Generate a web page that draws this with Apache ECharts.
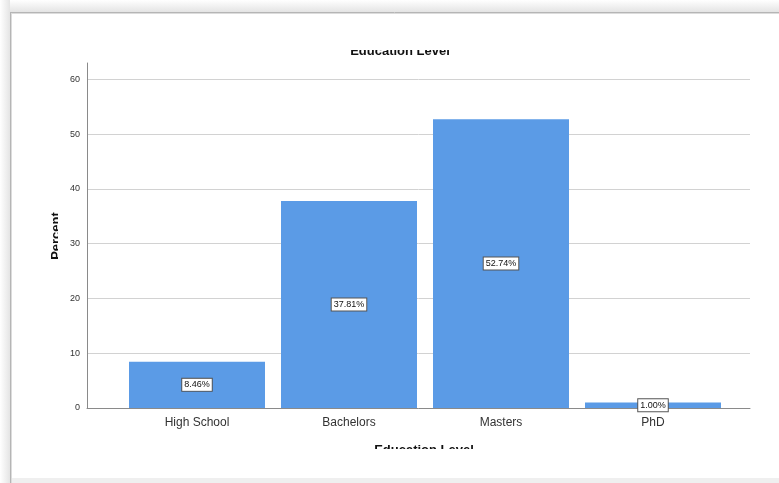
<!DOCTYPE html>
<html>
<head>
<meta charset="utf-8">
<script src="https://cdn.jsdelivr.net/npm/echarts@6/dist/echarts.min.js"></script>
<style>
  html, body { margin: 0; padding: 0; background: #fff; }
  #chart { width: 779px; height: 483px; }
</style>
</head>
<body>
<div id="chart"></div>
<script>
// Education level distribution (percent of respondents)
const categories = ['High School', 'Bachelors', 'Masters', 'PhD'];
const percents = [8.46, 37.81, 52.74, 1.00];
const yTicks = { min: 0, max: 63, interval: 10 };
const chartTitle = 'Education Level';
const xTitle = 'Education Level';
const yTitle = 'Percent';

const FONT = '"Liberation Sans", Arial, sans-serif';
const BAR = '#5b9be6';

const chart = echarts.init(document.getElementById('chart'), null, { renderer: 'canvas' });

chart.setOption({
  animation: false,
  backgroundColor: '#ffffff',
  grid: [
    // frame grid: axis lines and gridlines
    { left: 87, right: 29, top: 63, bottom: 75 },
    // plotting grid: bars and category labels
    { left: 121, right: 50, top: 63, bottom: 75 }
  ],
  xAxis: [
    {
      gridIndex: 0, type: 'category', data: categories,
      axisLine: { lineStyle: { color: '#8a8a8a', width: 1 } },
      axisTick: { show: false }, axisLabel: { show: false }
    },
    {
      gridIndex: 1, type: 'category', data: categories,
      axisLine: { show: false }, axisTick: { show: false },
      axisLabel: { fontFamily: FONT, fontSize: 12, color: '#333', margin: 9 }
    }
  ],
  yAxis: [
    {
      gridIndex: 0, type: 'value', min: yTicks.min, max: yTicks.max, interval: yTicks.interval,
      axisLine: { show: true, lineStyle: { color: '#8a8a8a', width: 1 } },
      axisTick: { show: false },
      axisLabel: {
        fontFamily: FONT, fontSize: 9, color: '#333', margin: 7,
        showMaxLabel: false,
        formatter: v => (v % 10 === 0 ? String(v) : '')
      },
      splitLine: { show: true, showMaxLine: false, lineStyle: { color: '#d2d2d2', width: 1 } }
    },
    {
      gridIndex: 1, type: 'value', min: yTicks.min, max: yTicks.max, interval: yTicks.interval,
      show: false
    }
  ],
  series: [
    {
      type: 'bar',
      xAxisIndex: 1, yAxisIndex: 1,
      data: percents,
      barWidth: 136,
      itemStyle: { color: BAR },
      label: {
        show: true, position: 'inside',
        formatter: p => p.value.toFixed(2) + '%',
        fontFamily: FONT, fontSize: 9, color: '#111',
        backgroundColor: '#ffffff', borderColor: '#555', borderWidth: 1,
        padding: [2, 2, 1, 2]
      }
    }
  ],
  graphic: [
    // window frame
    { type: 'rect', z: 100, shape: { x: 0, y: 0, width: 779, height: 12 }, style: { fill: new echarts.graphic.LinearGradient(0, 0, 0, 1, [{ offset: 0, color: '#ffffff' }, { offset: 1, color: '#e4e4e4' }]) }, silent: true },
    { type: 'rect', z: 100, shape: { x: 0, y: 0, width: 10, height: 483 }, style: { fill: new echarts.graphic.LinearGradient(0, 0, 1, 0, [{ offset: 0, color: '#ffffff' }, { offset: 1, color: '#e4e4e4' }]) }, silent: true },
    { type: 'line', z: 101, shape: { x1: 10.5, y1: 12, x2: 10.5, y2: 483 }, style: { stroke: '#b5b5b5', lineWidth: 1 }, silent: true },
    { type: 'line', z: 101, shape: { x1: 10, y1: 12.5, x2: 779, y2: 12.5 }, style: { stroke: '#b5b5b5', lineWidth: 1 }, silent: true },
    { type: 'line', z: 101, shape: { x1: 11.5, y1: 13, x2: 11.5, y2: 483 }, style: { stroke: '#dcdcdc', lineWidth: 1 }, silent: true },
    { type: 'line', z: 101, shape: { x1: 11, y1: 13.5, x2: 779, y2: 13.5 }, style: { stroke: '#dcdcdc', lineWidth: 1 }, silent: true },
    { type: 'rect', z: 100, shape: { x: 12, y: 478, width: 767, height: 5 }, style: { fill: '#efefef' }, silent: true },

    // chart title, trimmed at its top edge
    { type: 'text', z: 90, x: 400, y: 58, style: { text: chartTitle, font: 'bold 13px ' + FONT, fill: '#111', align: 'center', verticalAlign: 'bottom' }, silent: true },
    { type: 'rect', z: 95, shape: { x: 300, y: 30, width: 200, height: 20 }, style: { fill: '#ffffff' }, silent: true },

    // x axis title, trimmed at its bottom edge
    { type: 'text', z: 90, x: 424, y: 444, style: { text: xTitle, font: 'bold 13px ' + FONT, fill: '#111', align: 'center', verticalAlign: 'top' }, silent: true },
    { type: 'rect', z: 95, shape: { x: 320, y: 449, width: 200, height: 29 }, style: { fill: '#ffffff' }, silent: true },

    // y axis title, trimmed on its right side
    { type: 'text', z: 90, x: 50, y: 236, rotation: Math.PI / 2, style: { text: yTitle, font: 'bold 13px ' + FONT, fill: '#111', align: 'center', verticalAlign: 'top' }, silent: true },
    { type: 'rect', z: 95, shape: { x: 58, y: 186, width: 10, height: 100 }, style: { fill: '#ffffff' }, silent: true }
  ]
});
</script>
</body>
</html>
